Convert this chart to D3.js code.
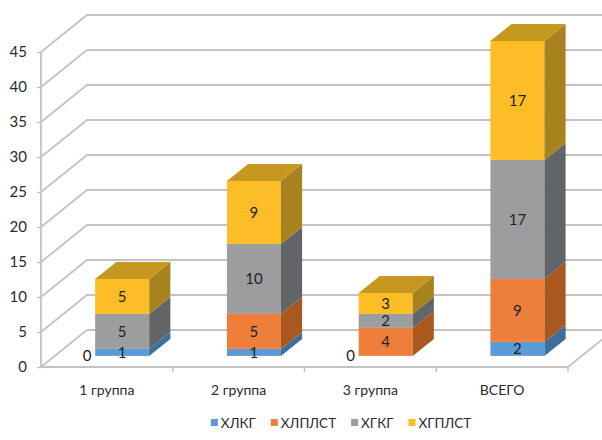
<!DOCTYPE html>
<html>
<head>
<meta charset="utf-8">
<script src="https://cdn.jsdelivr.net/npm/d3@7"></script>
<style>
  html, body { margin: 0; padding: 0; background: #fff; }
  svg { display: block; font-family: "Lato", "Open Sans", sans-serif; }
</style>
</head>
<body>
<svg id="chart" width="602" height="440"></svg>
<script>
// Categories, series and values
const categories = ["1 группа", "2 группа", "3 группа", "ВСЕГО"];
const seriesNames = ["ХЛКГ", "ХЛПЛСТ", "ХГКГ", "ХГПЛСТ"];
const valuesХЛКГ   = [1, 1, 0, 2];
const valuesХЛПЛСТ = [0, 5, 4, 9];
const valuesХГКГ   = [5, 10, 2, 17];
const valuesХГПЛСТ = [5, 9, 3, 17];
const yTicks = [0, 5, 10, 15, 20, 25, 30, 35, 40, 45];

const seriesValues = [valuesХЛКГ, valuesХЛПЛСТ, valuesХГКГ, valuesХГПЛСТ];

// Face colours per series: front, side, top
const palette = [
  { front: "#5B9BD5", side: "#3D6F9C", top: "#4A82B5" },
  { front: "#EE7F3A", side: "#A9581F", top: "#C86A2A" },
  { front: "#9C9D9E", side: "#626567", top: "#828384" },
  { front: "#FCBD26", side: "#A8821E", top: "#C7981F" }
];

const svg = d3.select("#chart");

// Plot geometry (front wall and depth projection)
const x0 = 41, x1 = 568;
const yBottom = 367, yTop = 52;
const depthDX = 46, depthDY = -37;   // full depth of the plot box
const barFront = 0.3;                // bar front plane as a fraction of depth
const barDepth = 0.46;               // bar thickness as a fraction of depth

const y = d3.scaleLinear().domain([0, 45]).range([yBottom, yTop]);
const x = d3.scaleBand().domain(categories).range([x0, x1]).paddingInner(0).paddingOuter(0);

const grid = svg.append("g")
  .attr("fill", "none")
  .attr("stroke", "#C3C3C3")
  .attr("stroke-width", 1.8);

// Left wall diagonals + back wall horizontal gridlines
yTicks.forEach(t => {
  const yy = y(t);
  grid.append("path")
    .attr("d", `M${x0},${yy} L${x0 + depthDX},${yy + depthDY} L${x1 + depthDX},${yy + depthDY}`);
});
// Floor: front edge and right edge
grid.append("path")
  .attr("d", `M${x0},${yBottom} L${x1},${yBottom} L${x1 + depthDX},${yBottom + depthDY}`);
// Vertical axis line
grid.append("line")
  .attr("x1", x0).attr("x2", x0).attr("y1", y(45)).attr("y2", yBottom);

// Y axis ticks and labels
const yAxis = d3.axisLeft(y).tickValues(yTicks).tickSize(4).tickPadding(10);
const yg = svg.append("g").attr("transform", `translate(${x0},0)`).call(yAxis);
yg.select(".domain").remove();
yg.selectAll(".tick line").attr("stroke", "#C3C3C3").attr("stroke-width", 1.5);
yg.selectAll(".tick text")
  .attr("font-size", 15).attr("fill", "#2b2b2b").attr("font-family", "Lato, sans-serif");

// Category axis along the floor's front edge
const xAxis = d3.axisBottom(x).tickSize(0).tickPadding(18);
const xg = svg.append("g").attr("transform", `translate(0,${yBottom})`).call(xAxis);
xg.select(".domain").remove();
xg.selectAll(".tick text")
  .attr("font-size", 14).attr("fill", "#2b2b2b").attr("font-family", "Lato, sans-serif");
// Category separator ticks
categories.forEach((c, i) => {
  const bx = x(c) + x.bandwidth();
  svg.append("line")
    .attr("x1", bx).attr("x2", bx)
    .attr("y1", yBottom).attr("y2", yBottom + 5)
    .attr("stroke", "#C3C3C3").attr("stroke-width", 1.5);
});

// Stacked 3D bars
const barW = x.bandwidth() * 0.41;
const fdx = depthDX * barFront, fdy = depthDY * barFront;
const bdx = depthDX * barDepth, bdy = depthDY * barDepth;

const stack = d3.stack().keys(d3.range(seriesNames.length))
  .value((d, k) => seriesValues[k][d]);
const stacked = stack(d3.range(categories.length));

const bars = svg.append("g");
const labels = svg.append("g")
  .attr("font-size", 15).attr("fill", "#222")
  .attr("text-anchor", "middle").attr("font-family", "Lato, sans-serif");

categories.forEach((c, ci) => {
  const left = x(c) + x.bandwidth() / 2 - barW / 2 + fdx + 1.5;
  const right = left + barW;
  const g = bars.append("g");
  let topSeg = -1;
  stacked.forEach((layer, si) => {
    const [v0, v1] = layer[ci];
    if (v1 - v0 > 0) topSeg = si;
  });
  stacked.forEach((layer, si) => {
    const [v0, v1] = layer[ci];
    const val = seriesValues[si][ci];
    const yb = y(v0) + fdy, yt = y(v1) + fdy;
    if (val > 0) {
      const col = palette[si];
      g.append("rect")
        .attr("x", left).attr("y", yt)
        .attr("width", barW).attr("height", yb - yt)
        .attr("fill", col.front);
      g.append("path")
        .attr("d", `M${right},${yb} L${right},${yt} L${right + bdx},${yt + bdy} L${right + bdx},${yb + bdy} Z`)
        .attr("fill", col.side);
      if (si === topSeg) {
        g.append("path")
          .attr("d", `M${left},${yt} L${right},${yt} L${right + bdx},${yt + bdy} L${left + bdx},${yt + bdy} Z`)
          .attr("fill", col.top);
      }
      labels.append("text")
        .attr("x", (left + right) / 2)
        .attr("y", (yb + yt) / 2)
        .attr("dy", "0.36em")
        .text(val);
    } else {
      // zero-value label sits just left of the bar base
      labels.append("text")
        .attr("x", left - 8)
        .attr("y", y(0) + fdy)
        .attr("dy", "0.36em")
        .text(val);
    }
  });
});

// Legend
const legend = svg.append("g").attr("font-size", 13.5).attr("fill", "#2b2b2b")
  .attr("font-family", "Lato, sans-serif");
let lx = 0;
seriesNames.forEach((name, i) => {
  const it = legend.append("g");
  it.append("rect").attr("x", 0).attr("y", -4).attr("width", 7).attr("height", 7)
    .attr("fill", palette[i].front);
  const t = it.append("text").attr("x", 10).attr("y", 0).attr("dy", "0.36em").text(name);
  const w = 10 + t.node().getComputedTextLength();
  it.attr("transform", `translate(${lx},0)`);
  lx += w + 15;
});
const totalW = lx - 15;
legend.attr("transform", `translate(${341 - totalW / 2},423)`);
</script>
</body>
</html>
